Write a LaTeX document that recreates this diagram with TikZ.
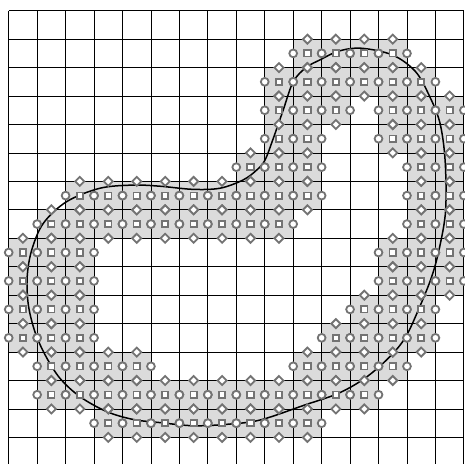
\documentclass[tikz,border=0pt]{standalone}
\usepackage{xcolor}
\usepackage{tikz}
\definecolor{cellgrey}{RGB}{219,219,219}
\definecolor{markgrey}{RGB}{115,115,115}
\tikzset{
  gridline/.style={black, line width=0.8pt},
  bandcell/.style={fill=cellgrey},
  interface/.style={black, line width=1.5pt},
  marker/.style={draw=markgrey, fill=white, line width=1.8pt},
}

\begin{document}
\begin{tikzpicture}[x=1cm, y=1cm]
  \useasboundingbox (-0.306,0.376) rectangle (16.04,-15.93);
  % cells of the band (row/first column/last column)
  \def\bandcells{1/10/13, 2/9/14, 3/9/11, 3/13/15, 4/9/10, 4/13/15,
    5/8/10, 5/14/15, 6/2/10, 6/14/15, 7/1/9, 7/14/15, 8/0/2, 8/13/15,
    9/0/2, 9/13/15, 10/0/2, 10/12/14, 11/0/2, 11/11/14, 12/1/4, 12/10/13,
    13/1/12, 14/3/10}
  \foreach \r/\a/\b in \bandcells {
    \foreach \c in {\a,...,\b}
      \fill[bandcell] (\c,-\r) rectangle ++(1,-1);
  }
  \draw[gridline] (0,-15.93) grid (16,0);
  % the interface
  \draw[interface] plot[smooth cycle, tension=0.55] coordinates {
    (12.4,-1.32) (13.5,-1.56) (14.3,-2.14) (14.8,-3.02) (15.16,-3.95)
    (15.34,-5.25) (15.36,-7.0) (15.15,-8.3) (14.87,-9.35) (14.4,-10.52)
    (13.93,-11.51) (13.34,-12.22) (12.52,-12.92) (11.59,-13.45)
    (10.41,-13.86) (8.83,-14.39) (7.66,-14.54) (6.49,-14.59) (5.32,-14.48)
    (4.38,-14.37) (3.44,-14.09) (2.51,-13.57) (1.80,-12.92) (1.28,-12.10)
    (0.92,-11.28) (0.69,-10.34) (0.65,-9.35) (0.81,-8.41) (1.22,-7.47)
    (2.04,-6.71) (3.21,-6.24) (4.38,-6.13) (5.32,-6.17) (6.48,-6.28)
    (7.43,-6.24) (8.24,-5.95) (8.72,-5.60) (9.01,-5.25) (9.30,-4.49)
    (9.65,-3.49) (10.0,-2.50) (10.45,-2.0) (10.94,-1.73) (11.6,-1.42)};
  % markers: squares in the cells, circles on the vertical faces,
  % diamonds on the horizontal faces
  \foreach \r/\a/\b in \bandcells {
    \foreach \c in {\a,...,\b} {
      \draw[marker] (\c,-\r-0.5) circle (3.9pt);
      \draw[marker] (\c+1,-\r-0.5) circle (3.9pt);
      \draw[marker] (\c+0.5,-\r) ++(0,4.5pt) -- ++(4.5pt,-4.5pt)
        -- ++(-4.5pt,-4.5pt) -- ++(-4.5pt,4.5pt) -- cycle;
      \draw[marker] (\c+0.5,-\r-1) ++(0,4.5pt) -- ++(4.5pt,-4.5pt)
        -- ++(-4.5pt,-4.5pt) -- ++(-4.5pt,4.5pt) -- cycle;
      \draw[marker] (\c+0.5,-\r-0.5) ++(-3.2pt,-3.2pt) rectangle ++(6.4pt,6.4pt);
    }
  }
\end{tikzpicture}
\end{document}
